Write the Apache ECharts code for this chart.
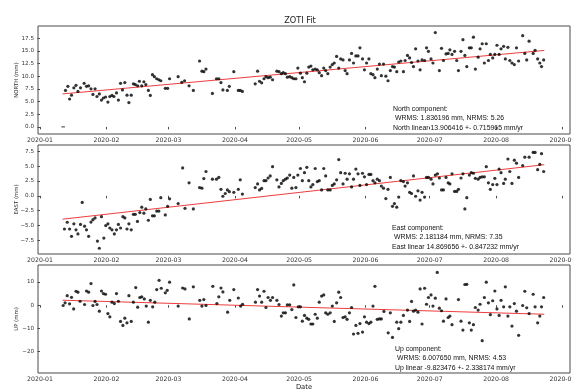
<!DOCTYPE html>
<html>
<head>
<meta charset="utf-8">
<script src="https://cdn.jsdelivr.net/npm/echarts@6/dist/echarts.min.js"></script>
<style>
  html, body { margin: 0; padding: 0; background: #fff; }
  #chart { width: 572px; height: 390px; }
</style>
</head>
<body>
<div id="chart"></div>
<script>
// Station ZOTI daily position residuals, days counted from 2020-01-01.
const monthDays   = [0, 31, 60, 91, 121, 152, 182, 213, 244];
const monthLabels = ['2020-01', '2020-02', '2020-03', '2020-04', '2020-05', '2020-06', '2020-07', '2020-08', '2020-09'];

const northDays = [10.8,11.9,13.0,13.8,14.7,15.8,16.8,17.7,18.9,20.6,21.7,22.7,23.8,24.7,25.7,26.6,27.7,28.7,29.6,30.6,31.7,32.6,33.6,34.5,35.7,36.6,37.6,38.5,39.6,40.6,41.5,42.6,43.6,44.5,45.6,46.4,47.5,48.5,49.4,50.6,51.5,52.5,53.4,54.5,55.5,56.4,58.5,59.6,60.5,64.5,66.2,67.5,69.6,71.6,74.5,75.6,76.5,77.5,80.5,82.4,83.5,84.5,85.4,87.5,88.4,90.5,92.6,93.5,94.5,100.5,101.6,102.5,103.5,104.6,105.5,106.5,107.5,108.6,110.6,111.6,112.7,113.6,114.6,115.5,116.6,117.6,118.5,119.5,120.4,121.6,122.5,123.5,124.6,125.5,126.5,127.4,128.5,129.5,130.4,131.5,132.5,133.4,134.4,135.5,136.5,137.4,138.5,139.5,140.4,141.5,142.5,143.4,144.5,145.5,146.4,147.5,148.5,149.4,150.6,151.5,152.5,153.6,154.5,155.5,156.4,157.5,158.5,159.4,160.4,161.5,162.5,163.6,164.6,165.5,166.6,167.5,168.5,169.7,170.5,171.6,172.6,173.5,174.4,175.4,176.5,177.5,178.4,179.6,180.5,181.4,182.6,183.5,184.6,186.5,187.5,188.4,189.6,190.6,191.4,192.4,193.6,194.6,195.4,196.6,197.5,198.4,199.3,200.5,201.4,202.4,203.3,204.6,205.5,206.5,207.5,208.4,209.4,210.3,211.4,212.4,213.4,214.4,215.3,216.5,217.3,218.5,219.4,220.4,221.5,222.5,223.5,225.4,226.4,227.3,228.4,230.3,231.2,232.4,233.4,234.2,235.2];
const northMm = [0.0,7.2,8.0,5.5,6.25,7.7,8.2,7.0,7.7,8.6,8.0,8.1,7.5,6.4,7.5,6.0,6.5,5.3,5.7,5.9,4.9,6.0,6.2,6.0,6.7,5.3,8.6,7.3,8.75,6.25,4.8,6.25,8.5,8.35,8.1,9.0,8.1,8.9,8.35,7.2,6.2,10.3,9.9,9.5,9.3,9.1,7.6,7.6,9.5,9.9,8.8,9.1,8.1,7.2,13.0,11.0,10.9,11.4,6.6,9.5,9.5,8.75,7.3,7.2,8.0,10.9,7.2,7.2,7.0,8.5,11.0,9.0,8.7,9.5,9.9,9.7,9.8,9.3,11.0,10.9,10.5,10.7,10.5,9.8,9.9,9.7,9.5,9.5,11.6,10.6,9.7,8.9,10.6,11.8,12.0,11.25,11.4,11.25,10.7,10.1,11.6,11.1,10.5,11.8,12.3,12.6,13.9,11.6,13.4,13.2,11.1,10.5,13.2,14.5,12.6,14.0,14.0,15.6,13.4,11.25,12.6,13.4,10.5,10.3,9.7,11.4,12.4,10.1,12.4,10.0,9.1,11.1,11.9,11.8,10.9,12.8,13.0,10.9,13.1,14.1,13.6,12.7,11.9,15.4,13.0,11.25,13.2,13.1,15.6,14.9,13.4,12.6,18.6,11.1,15.5,13.1,14.4,14.5,15.2,14.3,14.9,13.1,11.1,14.9,17.2,14.1,11.9,15.6,15.6,17.7,11.4,13.75,15.4,16.4,12.6,16.4,13.1,14.3,13.6,14.3,16.1,14.3,15.4,15.9,13.4,15.7,13.1,12.6,12.3,15.6,13.0,18.0,14.5,13.2,16.9,14.5,15.1,13.4,12.6,11.9,13.2];

const eastDays = [11.4,12.7,13.8,14.7,15.8,16.8,17.7,18.9,19.7,20.8,21.7,22.7,23.8,24.7,25.7,26.8,27.7,28.7,29.8,30.7,31.7,32.6,33.6,34.7,35.7,36.6,37.6,38.7,39.6,40.6,41.5,42.6,43.6,44.5,45.5,46.6,47.5,48.5,49.4,50.6,51.5,52.5,53.4,54.5,55.5,56.4,58.5,59.6,60.5,64.5,66.6,67.7,69.6,71.6,74.5,75.6,76.5,77.5,80.5,82.4,83.5,84.5,85.4,86.5,87.5,88.4,90.5,92.6,93.5,94.5,100.5,101.6,102.5,103.5,104.6,105.5,106.5,107.5,108.6,110.6,111.6,112.7,113.6,114.6,115.5,116.6,117.6,118.5,119.5,120.4,121.6,122.5,123.5,124.6,125.5,126.5,127.4,128.5,129.5,130.4,131.5,132.5,133.4,134.4,135.5,136.5,137.4,138.5,139.5,140.4,141.5,142.5,143.4,144.5,145.5,146.4,147.5,148.5,149.4,150.6,151.5,152.5,153.6,154.5,155.5,156.4,157.5,158.5,159.4,160.4,161.5,162.5,163.6,164.6,165.5,166.6,167.5,168.5,169.7,170.5,171.6,172.6,173.5,174.4,175.4,176.5,177.5,178.4,179.6,180.5,181.4,182.6,183.5,184.6,185.6,186.5,187.5,188.4,189.6,190.6,191.4,192.4,193.6,194.6,195.4,196.6,197.5,198.4,199.3,200.5,201.4,202.4,203.3,204.6,205.5,206.5,207.5,208.4,209.4,210.3,211.4,212.4,213.4,214.4,215.3,216.5,217.3,218.5,219.4,220.4,221.5,222.5,223.5,225.4,226.4,228.4,230.3,231.2,232.4,233.4,234.2,235.2];
const eastMm = [-5.57,-4.43,-5.57,-6.8,-4.7,-5.7,-6.4,-4.8,-1.1,-5.1,-5.7,-6.8,-4.4,-4.0,-3.7,-7.6,-8.8,-3.5,-7.1,-5.0,-4.7,-5.4,-5.7,-6.4,-5.7,-4.8,-5.4,-3.5,-3.7,-5.57,-4.7,-5.7,-3.1,-3.1,-4.3,-2.8,-1.9,-2.9,-2.2,-4.1,-0.6,-3.35,-3.35,-2.55,-2.55,-0.3,-3.2,-1.76,-0.5,-1.3,4.7,-2.1,2.2,-2.2,1.4,1.3,2.9,4.1,2.8,2.8,3.1,1.1,-0.06,0.4,1.0,0.7,0.6,1.1,2.7,0.3,1.4,2.0,1.0,1.25,2.55,2.55,3.0,3.35,4.9,2.7,1.5,2.1,2.55,2.8,3.0,3.5,1.3,3.1,1.4,3.5,4.6,2.55,3.9,4.8,2.55,1.5,1.9,4.6,2.4,2.55,1.0,4.6,3.35,1.0,1.0,1.76,2.0,2.7,6.1,3.9,2.0,3.8,2.8,3.7,1.5,2.8,4.5,3.7,1.76,3.8,3.2,1.9,3.6,3.6,2.55,2.2,2.8,2.55,1.65,1.3,-0.45,1.1,3.1,-1.76,-1.3,-1.9,-0.2,2.55,2.4,1.65,2.2,0.6,0.4,3.35,-0.06,0.85,-0.7,0.6,-0.2,3.1,3.1,2.8,2.0,3.5,3.7,3.0,1.0,1.0,3.1,2.2,2.0,3.7,0.75,0.75,1.1,3.0,3.7,-2.2,-0.3,3.5,3.9,3.8,2.95,2.8,3.1,3.2,3.2,4.9,2.2,1.1,1.9,2.95,1.9,4.5,3.9,2.1,2.8,6.2,4.1,2.1,6.0,5.5,3.1,5.1,6.5,6.5,7.3,7.3,4.4,5.3,7.1,4.1];

const upDays = [10.8,11.7,12.7,13.8,14.7,15.7,16.8,17.7,18.7,20.8,21.7,22.7,23.8,24.7,25.7,26.6,27.7,28.7,29.6,30.6,31.7,32.6,33.6,34.7,35.7,36.6,37.6,38.7,39.6,40.6,41.5,42.6,43.6,44.7,45.6,46.6,47.5,48.7,49.6,50.6,51.5,52.6,53.6,54.5,55.6,56.6,58.5,59.4,60.5,64.5,66.6,67.7,69.7,71.6,74.6,75.6,76.5,77.5,80.7,82.6,83.5,84.5,85.4,87.6,88.6,90.5,92.6,93.7,94.6,100.6,101.6,102.5,103.5,104.6,105.5,106.5,107.6,108.6,110.6,111.6,112.7,113.6,114.6,115.5,116.6,117.6,118.5,119.5,120.6,121.6,122.5,123.5,124.6,125.5,126.5,127.4,128.5,129.5,130.4,131.5,132.5,133.4,134.4,135.5,136.5,137.4,138.5,139.5,140.4,141.5,142.5,143.4,144.5,145.5,146.4,147.5,148.5,149.4,150.6,151.5,152.5,153.6,154.5,155.5,156.4,157.5,158.5,159.4,160.6,162.6,163.6,164.6,166.6,167.5,168.5,169.7,171.6,172.6,173.5,174.4,175.4,176.5,177.5,178.4,179.6,180.5,181.4,182.6,183.5,184.6,185.5,186.5,187.5,188.4,189.6,190.6,191.4,192.4,195.4,196.6,197.5,198.4,199.3,200.5,201.4,202.4,203.3,204.6,205.5,206.5,207.5,208.4,209.4,210.3,211.4,212.4,213.4,214.4,215.3,216.5,217.3,218.5,219.4,220.4,221.5,222.5,223.5,225.4,226.4,227.3,228.4,230.3,231.2,232.4,233.4,234.2,235.2];
const upMm = [-0.14,1.0,4.1,0.6,3.4,-1.6,6.0,5.6,1.7,0.3,6.1,5.6,9.3,-0.14,1.6,0.3,-2.6,6.1,5.0,4.7,-3.6,-5.0,1.3,0.7,5.0,1.7,-7.0,-8.7,-5.6,-7.6,4.1,-7.0,1.3,7.6,-0.86,3.3,3.6,2.7,-0.4,-7.3,2.1,-0.7,1.3,6.7,10.7,7.3,5.3,6.4,9.9,-0.4,7.4,7.0,-5.9,7.9,2.1,-0.4,2.4,-0.14,8.1,0.7,3.6,7.4,5.7,-3.0,2.1,6.7,3.1,-0.4,0.4,1.3,6.7,3.9,1.3,6.0,-1.0,3.3,2.1,3.3,2.1,0.3,-4.7,-3.3,-3.3,0.14,0.14,-1.9,8.7,-5.3,-0.7,-0.7,-6.9,-4.4,-5.6,-6.1,-8.1,-8.1,-3.9,-5.6,1.3,3.9,4.4,-3.3,-3.9,-3.3,-0.4,-7.0,1.0,5.6,3.3,-5.3,-5.0,-6.1,-3.3,-1.0,-12.4,-8.7,-12.1,-7.9,-11.6,-5.0,-7.3,-7.9,-7.3,-0.4,8.1,-6.1,-5.9,-5.9,-2.7,-11.9,-3.3,-13.9,-7.3,-10.1,-7.3,-4.4,-2.1,-7.0,1.6,-2.6,-2.1,-3.0,7.0,-8.1,7.3,0.4,3.3,4.4,-0.4,3.0,14.1,-1.3,-2.4,-6.9,2.7,-5.3,-4.7,-8.4,2.4,-6.9,-10.7,8.9,9.0,-7.6,-10.7,-8.4,-1.0,-2.1,0.4,-15.3,3.3,9.9,1.0,-4.1,1.9,6.1,-1.6,-4.4,2.1,-0.7,7.9,-4.7,-0.7,-9.0,0.7,-2.6,-13.0,-0.14,6.0,-1.1,-3.6,4.7,-0.7,-7.6,-4.7,-0.7,3.3];

// Linear fits: value at the first fitted day and rate in mm/yr (rates as printed).
const fitSpan       = [10.5, 235.5];
const fitIntercepts = [6.51, -3.92, 2.14];
const fitRates      = [13.906416, 14.869656, -9.823476];

const yTickValues = [
  [0, 2.5, 5, 7.5, 10, 12.5, 15, 17.5],
  [-7.5, -5, -2.5, 0, 2.5, 5, 7.5],
  [-20, -10, 0, 10]
];
const yNames = ['NORTH (mm)', 'EAST (mm)', 'UP (mm)'];
const yDecimals = [1, 1, 0];

const noteLines = [
  ['North component:', ' WRMS: 1.836196 mm, NRMS: 5.26', 'North linear 13.906416 +- 0.715965 mm/yr'],
  ['East component:', ' WRMS: 2.181184 mm, NRMS: 7.35', 'East linear 14.869656 +- 0.847232 mm/yr'],
  ['Up component:', ' WRMS: 6.007650 mm, NRMS: 4.53', 'Up linear -9.823476 +- 2.338174 mm/yr']
];

// ---- layout ----
const FONT = 'DejaVu Sans';
const NOTE_FONT = 'Liberation Sans';
const panels = [
  { top: 26,  height: 108, yMin: -1.4,  yMax: 19.9 },
  { top: 145, height: 109, yMin: -9.77, yMax: 8.55 },
  { top: 265, height: 108, yMin: -29.2, yMax: 17.3 }
];
const noteAnchor = [[393, 109], [392, 228], [395, 349]];
const xMin = -0.95, xMax = 247.5;

const series = [
  { days: northDays, mm: northMm },
  { days: eastDays,  mm: eastMm },
  { days: upDays,    mm: upMm }
];

const minus = s => s.replace('-', '\u2212');

const option = {
  animation: false,
  backgroundColor: '#fff',
  title: {
    text: 'ZOTI Fit',
    left: 295, top: 12,
    textAlign: 'center',
    textStyle: { fontFamily: FONT, fontSize: 8.2, fontWeight: 'normal', color: '#222' }
  },
  grid: panels.map(p => ({
    left: 38, right: 2, top: p.top, height: p.height,
    containLabel: false, outerBoundsMode: 'none',
    show: true, borderColor: '#4a4a4a', borderWidth: 1, backgroundColor: 'transparent'
  })),
  xAxis: panels.map((p, i) => ({
    type: 'value', gridIndex: i, min: xMin, max: xMax,
    axisLine: { show: false },
    splitLine: { show: false },
    axisTick: { show: true, length: 2.5, lineStyle: { color: '#4a4a4a', width: 1 }, customValues: monthDays },
    axisLabel: {
      show: true, margin: 3, fontFamily: FONT, fontSize: 6.2, color: '#333',
      hideOverlap: false,
      customValues: monthDays,
      formatter: v => monthLabels[monthDays.indexOf(v)]
    },
    name: i === 2 ? 'Date' : '',
    nameLocation: 'middle', nameGap: 11, nameMoveOverlap: false,
    nameTextStyle: { fontFamily: FONT, fontSize: 6.8, color: '#222' }
  })),
  yAxis: panels.map((p, i) => ({
    type: 'value', gridIndex: i, min: p.yMin, max: p.yMax,
    axisLine: { show: false },
    splitLine: { show: false },
    axisTick: { show: true, length: 2.5, lineStyle: { color: '#4a4a4a', width: 1 }, customValues: yTickValues[i] },
    axisLabel: {
      show: true, margin: 4, fontFamily: FONT, fontSize: 5.6, color: '#333',
      customValues: yTickValues[i],
      formatter: v => minus(v.toFixed(yDecimals[i]))
    },
    name: yNames[i],
    nameLocation: 'middle', nameRotate: 90, nameGap: 19, nameMoveOverlap: false,
    nameTextStyle: { fontFamily: FONT, fontSize: 5.4, color: '#333' }
  })),
  series: [],
  graphic: []
};

series.forEach((s, i) => {
  option.series.push({
    type: 'scatter', xAxisIndex: i, yAxisIndex: i,
    symbol: 'circle', symbolSize: 3.2,
    itemStyle: { color: '#000' },
    // a zero-valued sample (flagged epoch) is drawn as a short dash
    data: s.days.map((d, k) => s.mm[k] === 0
      ? { value: [d, s.mm[k]], symbol: 'rect', symbolSize: [3.5, 1] }
      : [d, s.mm[k]]),
    z: 3
  });
  const years = (fitSpan[1] - fitSpan[0]) / 365.25;
  option.series.push({
    type: 'line', xAxisIndex: i, yAxisIndex: i,
    symbol: 'none',
    lineStyle: { color: '#f03c3c', width: 1 },
    data: [[fitSpan[0], fitIntercepts[i]], [fitSpan[1], fitIntercepts[i] + fitRates[i] * years]],
    z: 2
  });
  noteLines[i].forEach((line, j) => {
    option.graphic.push({
      type: 'text',
      x: noteAnchor[i][0], y: noteAnchor[i][1] + j * 9.3,
      style: {
        text: line, fontFamily: NOTE_FONT, fontSize: 6.9, fill: '#111',
        verticalAlign: 'middle', align: 'left'
      },
      z: 10
    });
  });
});

const chart = echarts.init(document.getElementById('chart'), null, { renderer: 'canvas' });
chart.setOption(option);
</script>
</body>
</html>
